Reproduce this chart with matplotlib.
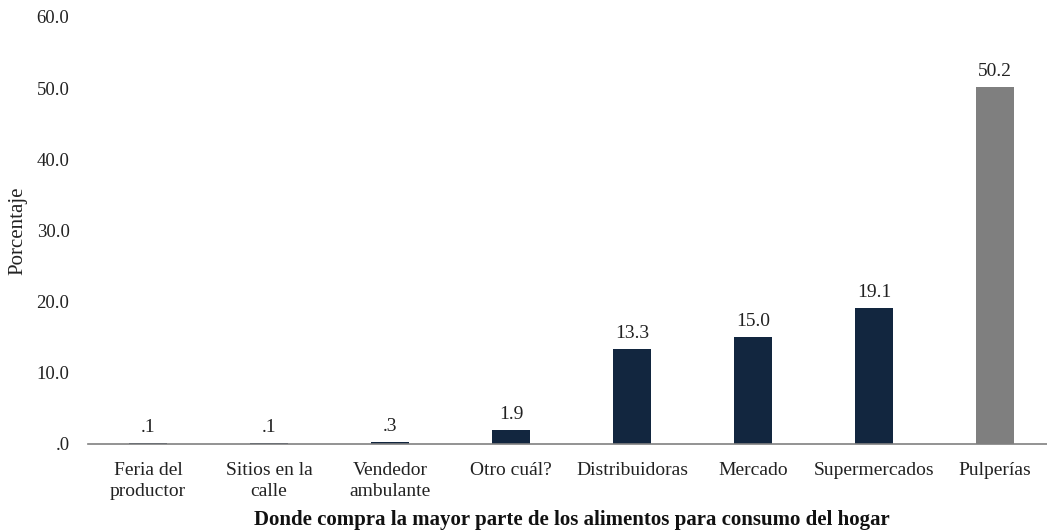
import matplotlib
matplotlib.use("Agg")
import matplotlib.pyplot as plt
import matplotlib.ticker as ticker

plt.rcParams['font.family'] = ['Liberation Serif', 'DejaVu Serif']

# ------------------------------ data ------------------------------ #
categories = ["Feria del\nproductor", "Sitios en la\ncalle", "Vendedor\nambulante",
              "Otro cuál?", "Distribuidoras", "Mercado", "Supermercados", "Pulperías"]
values = [0.1, 0.1, 0.3, 1.9, 13.3, 15.0, 19.1, 50.2]
y_ticks = [0, 10, 20, 30, 40, 50, 60]

navy = "#12263f"
grey = "#7f7f7f"
colors = [navy] * (len(values) - 1) + [grey]


def short_fmt(v):
    # Spanish-report style: drop the leading zero (".1", ".0")
    s = f"{v:.1f}"
    return s[1:] if s.startswith("0") else s


fig = plt.figure(figsize=(10.47, 5.31), dpi=100)
# plot area runs slightly past the right edge of the picture, as in the original
ax = fig.add_axes([0.0836, 0.164, 0.9245, 0.804])

x = range(len(values))
bars = ax.bar(x, values, width=0.315, color=colors, zorder=2)

for b, v in zip(bars, values):
    ax.text(b.get_x() + b.get_width() / 2, v + 1.0, short_fmt(v),
            ha="center", va="bottom", fontsize=14, color="#222222")

ax.set_xlim(-0.5, len(values) - 0.5)
ax.set_ylim(0, 60)
ax.set_yticks(y_ticks)
ax.yaxis.set_major_formatter(ticker.FuncFormatter(lambda v, p: short_fmt(v)))
ax.set_xticks(list(x))
ax.set_xticklabels(categories, fontsize=14, color="#222222", linespacing=1.3)
ax.tick_params(axis="y", length=0, labelsize=13.5, labelcolor="#222222", pad=13)
ax.tick_params(axis="x", length=0, pad=13)

for s in ["top", "right", "left"]:
    ax.spines[s].set_visible(False)
ax.spines["bottom"].set_color("#808080")
ax.spines["bottom"].set_linewidth(1.2)

ax.set_ylabel("Porcentaje", fontsize=15, color="#222222", labelpad=7)
ax.set_xlabel("Donde compra la mayor parte de los alimentos para consumo del hogar",
              fontsize=15, fontweight="bold", color="#111111", labelpad=7)

plt.savefig("out.png", dpi=100)
